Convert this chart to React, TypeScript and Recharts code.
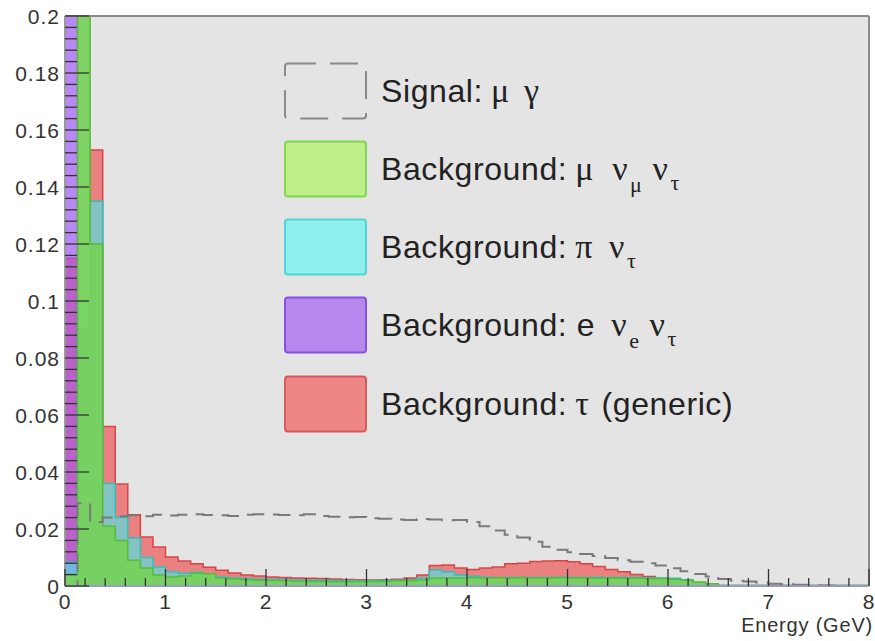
import { ComposedChart, Area, Line, XAxis, YAxis, CartesianGrid, ReferenceLine } from 'recharts';

// 64 bins of 0.125 GeV between 0 and 8 GeV
const binWidth = 0.125;

const muNuNu = [
  0.004, 0.26, 0.12, 0.021, 0.016, 0.009, 0.0063, 0.0039, 0.0032, 0.0035,
  0.0045, 0.0043, 0.0028, 0.0025, 0.0022, 0.002, 0.0019, 0.0018, 0.0017, 0.0016,
  0.0016, 0.0015, 0.0015, 0.0016, 0.0016, 0.0017, 0.0018, 0.0019, 0.0021, 0.0027,
  0.0028, 0.0028, 0.0029, 0.0028, 0.0029, 0.0028, 0.0029, 0.0028, 0.0028, 0.0029,
  0.0028, 0.0028, 0.0027, 0.0028, 0.0027, 0.0027, 0.0026, 0.0026, 0.0024, 0.002,
  0.0014, 0.0008, 0.0003, 0.0003, 0.0003, 0.0003, 0.0003, 0.0003, 0.0003, 0.0003,
  0.0003, 0.0003, 0.0003, 0.0003,
];

const piNu = [
  0.0084, 0.1, 0.135, 0.036, 0.024, 0.0168, 0.01, 0.0067, 0.005, 0.0045,
  0.0048, 0.004, 0.0032, 0.0028, 0.0026, 0.0024, 0.0023, 0.0022, 0.0021, 0.002,
  0.002, 0.0019, 0.0019, 0.0019, 0.0019, 0.002, 0.002, 0.0022, 0.0028, 0.0056,
  0.005, 0.0039, 0.0034, 0.0031, 0.003, 0.003, 0.0031, 0.003, 0.003, 0.0031,
  0.003, 0.003, 0.0031, 0.003, 0.003, 0.003, 0.0029, 0.0028, 0.0027, 0.0022,
  0.0012, 0.0005, 0, 0, 0, 0, 0, 0, 0, 0,
  0, 0, 0, 0,
];

const eNuNu = [
  0.5, 0, 0, 0, 0, 0, 0, 0, 0, 0,
  0, 0, 0, 0, 0, 0, 0, 0, 0, 0,
  0, 0, 0, 0, 0, 0, 0, 0, 0, 0,
  0, 0, 0, 0, 0, 0, 0, 0, 0, 0,
  0, 0, 0, 0, 0, 0, 0, 0, 0, 0,
  0, 0, 0, 0, 0, 0, 0, 0, 0, 0,
  0, 0, 0, 0,
];

const tauGeneric = [
  0.115, 0.09, 0.153, 0.056, 0.0358, 0.025, 0.0172, 0.0137, 0.0102, 0.0088,
  0.0078, 0.0066, 0.0055, 0.0046, 0.0039, 0.0035, 0.0032, 0.003, 0.0028, 0.0027,
  0.0026, 0.0025, 0.0023, 0.0022, 0.0021, 0.0022, 0.0024, 0.0028, 0.0039, 0.0072,
  0.0074, 0.0063, 0.0058, 0.0063, 0.0067, 0.0078, 0.008, 0.0086, 0.0088, 0.0089,
  0.0085, 0.0078, 0.0068, 0.0058, 0.005, 0.004, 0.0033, 0.0025, 0.0015, 0.0008,
  0.0003, 0, 0, 0, 0, 0, 0, 0, 0, 0,
  0, 0, 0, 0,
];

const signal = [
  0, 0.029, 0.0225, 0.024, 0.0245, 0.0248, 0.0245, 0.025, 0.0247, 0.025,
  0.0252, 0.0249, 0.0248, 0.0246, 0.025, 0.0252, 0.0251, 0.0249, 0.0248, 0.0252,
  0.0246, 0.0243, 0.0241, 0.0242, 0.0238, 0.0236, 0.0233, 0.0232, 0.0235, 0.0233,
  0.0231, 0.0232, 0.0225, 0.021, 0.0195, 0.018, 0.017, 0.0155, 0.0138, 0.0127,
  0.0118, 0.0112, 0.0105, 0.0098, 0.009, 0.0085, 0.008, 0.0072, 0.0062, 0.0052,
  0.0042, 0.0033, 0.0025, 0.0018, 0.0016, 0.0012, 0.0008, 0.0006, 0.0004, 0.0003,
  0.0002, 0.0001, 0, 0,
];

const xMajorTicks = [0, 1, 2, 3, 4, 5, 6, 7, 8];
const yMajorTicks = [0, 0.02, 0.04, 0.06, 0.08, 0.1, 0.12, 0.14, 0.16, 0.18, 0.2];
const yTickLabels = ['0', '0.02', '0.04', '0.06', '0.08', '0.1', '0.12', '0.14', '0.16', '0.18', '0.2'];

const nBins = muNuNu.length;
const data = Array.from({ length: nBins + 1 }, (_, i) => {
  const k = Math.min(i, nBins - 1);
  return {
    x: i * binWidth,
    green: muNuNu[k],
    cyan: piNu[k],
    purple: eNuNu[k],
    red: tauGeneric[k],
    signal: signal[k],
  };
});

// 5 subdivisions between major ticks, like ROOT
function withMinor(majors: number[], digits: number) {
  const out: number[] = [];
  for (let i = 0; i < majors.length; i++) {
    out.push(majors[i]);
    if (i < majors.length - 1) {
      const step = (majors[i + 1] - majors[i]) / 5;
      for (let j = 1; j < 5; j++) out.push(Number((majors[i] + j * step).toFixed(digits)));
    }
  }
  return out;
}
const xTicks = withMinor(xMajorTicks, 3);
const yTicks = withMinor(yMajorTicks, 4);

const sans = '"Liberation Sans", Arial, Helvetica, sans-serif';
const serif = '"Liberation Serif", "DejaVu Serif", serif';

function XTick(props: any) {
  const { x, y, payload } = props;
  const idx = xMajorTicks.findIndex((m) => Math.abs(m - payload.value) < 1e-6);
  const major = idx >= 0;
  return (
    <g>
      <line x1={x} x2={x} y1={y} y2={y - (major ? 17 : 8)} stroke="#333" strokeWidth={1.3} />
      {major && (
        <text x={x} y={y + 23} textAnchor="middle" fontSize={21} fontFamily={sans} fill="#333" letterSpacing={1}>
          {xMajorTicks[idx]}
        </text>
      )}
    </g>
  );
}

function YTick(props: any) {
  const { x, y, payload } = props;
  const idx = yMajorTicks.findIndex((m) => Math.abs(m - payload.value) < 1e-7);
  const major = idx >= 0;
  return (
    <g>
      <line x1={x} x2={x + (major ? 24 : 12)} y1={y} y2={y} stroke="#333" strokeWidth={1.3} />
      {major && (
        <text x={x - 5} y={y + 8} textAnchor="end" fontSize={21} fontFamily={sans} fill="#333" letterSpacing={1}>
          {yTickLabels[idx]}
        </text>
      )}
    </g>
  );
}

function LegendBox() {
  const rows = [91, 169, 247, 325, 404];
  const swatches = [
    { fill: 'none', stroke: '#8a8a8a', dash: '28 14' },
    { fill: '#bdee88', stroke: '#80d850', dash: undefined },
    { fill: '#8ef0ec', stroke: '#50d4d4', dash: undefined },
    { fill: '#b688ee', stroke: '#8c4ee0', dash: undefined },
    { fill: '#ee8686', stroke: '#d85a5a', dash: undefined },
  ];
  const tx = 381;
  const greek = { fontFamily: serif, fontSize: 34 };
  const sub = { fontFamily: serif, fontSize: 22 };
  return (
    <svg width={875} height={641} style={{ position: 'absolute', left: 0, top: 0, pointerEvents: 'none' }}>
      {rows.map((cy, i) => (
        <rect
          key={i}
          x={285}
          y={cy - 27.5}
          width={81}
          height={55}
          rx={3}
          fill={swatches[i].fill}
          stroke={swatches[i].stroke}
          strokeWidth={2}
          strokeDasharray={swatches[i].dash}
        />
      ))}
      <g fontFamily={sans} fontSize={32} fill="#222" letterSpacing={0.6}>
        <text x={tx} y={rows[0] + 11}>
          Signal:
          <tspan dx={8} {...greek}>μ</tspan>
          <tspan dx={14} {...greek}>γ</tspan>
        </text>
        <text x={tx} y={rows[1] + 11}>
          Background:
          <tspan dx={8} {...greek}>μ</tspan>
          <tspan dx={18} {...greek}>ν</tspan>
          <tspan dx={2} dy={12} {...sub}>μ</tspan>
          <tspan dx={10} dy={-12} {...greek}>ν</tspan>
          <tspan dx={2} dy={10} {...sub}>τ</tspan>
        </text>
        <text x={tx} y={rows[2] + 11}>
          Background:
          <tspan dx={8} {...greek}>π</tspan>
          <tspan dx={16} {...greek}>ν</tspan>
          <tspan dx={2} dy={10} {...sub}>τ</tspan>
        </text>
        <text x={tx} y={rows[3] + 11}>
          Background: e
          <tspan dx={16} {...greek}>ν</tspan>
          <tspan dx={2} dy={12} {...sub}>e</tspan>
          <tspan dx={10} dy={-12} {...greek}>ν</tspan>
          <tspan dx={2} dy={10} {...sub}>τ</tspan>
        </text>
        <text x={tx} y={rows[4] + 11}>
          Background:
          <tspan dx={8} {...greek}>τ</tspan>
          <tspan dx={12}>(generic)</tspan>
        </text>
      </g>
      <text x={873} y={632} textAnchor="end" fontFamily={sans} fontSize={20} fill="#333" letterSpacing={0.8}>
        Energy (GeV)
      </text>
    </svg>
  );
}

export default function App() {
  return (
    <div style={{ position: 'absolute', left: 0, top: 0, width: 875, height: 641, background: '#fff' }}>
      <ComposedChart width={875} height={641} data={data} margin={{ top: 16, right: 6, bottom: 0, left: 0 }}>
        <CartesianGrid fill="#e4e4e4" horizontal={false} vertical={false} />
        <Area type="stepAfter" dataKey="red" fill="#ee3d3d" fillOpacity={0.6} stroke="#d64545" strokeWidth={1.5} dot={false} activeDot={false} isAnimationActive={false} />
        <Area type="stepAfter" dataKey="purple" fill="#9b4dff" fillOpacity={0.6} stroke="#8a55c8" strokeWidth={1.5} dot={false} activeDot={false} isAnimationActive={false} />
        <Area type="stepAfter" dataKey="cyan" fill="#40f0f0" fillOpacity={0.6} stroke="#30c0c0" strokeWidth={1.5} dot={false} activeDot={false} isAnimationActive={false} />
        <Area type="stepAfter" dataKey="green" fill="#76d25a" fillOpacity={0.93} stroke="#56bc3a" strokeWidth={1.5} dot={false} activeDot={false} isAnimationActive={false} />
        <Line type="stepAfter" dataKey="signal" stroke="#7a7a7a" strokeWidth={2} strokeDasharray="18 9" dot={false} activeDot={false} isAnimationActive={false} />
        <ReferenceLine y={0.2} stroke="#8a8a8a" strokeWidth={2} />
        <ReferenceLine x={8} stroke="#8a8a8a" strokeWidth={2} />
        <XAxis
          dataKey="x"
          type="number"
          domain={[0, 8]}
          ticks={xTicks}
          interval={0}
          height={55}
          tickSize={0}
          tickMargin={0}
          tickLine={false}
          tick={<XTick />}
          axisLine={{ stroke: '#9a98c4', strokeWidth: 2 }}
          allowDataOverflow
        />
        <YAxis
          type="number"
          domain={[0, 0.2]}
          ticks={yTicks}
          interval={0}
          width={65}
          tickSize={0}
          tickMargin={0}
          tickLine={false}
          tick={<YTick />}
          axisLine={{ stroke: '#9a9a9a', strokeWidth: 2 }}
          allowDataOverflow
        />
      </ComposedChart>
      <LegendBox />
    </div>
  );
}
